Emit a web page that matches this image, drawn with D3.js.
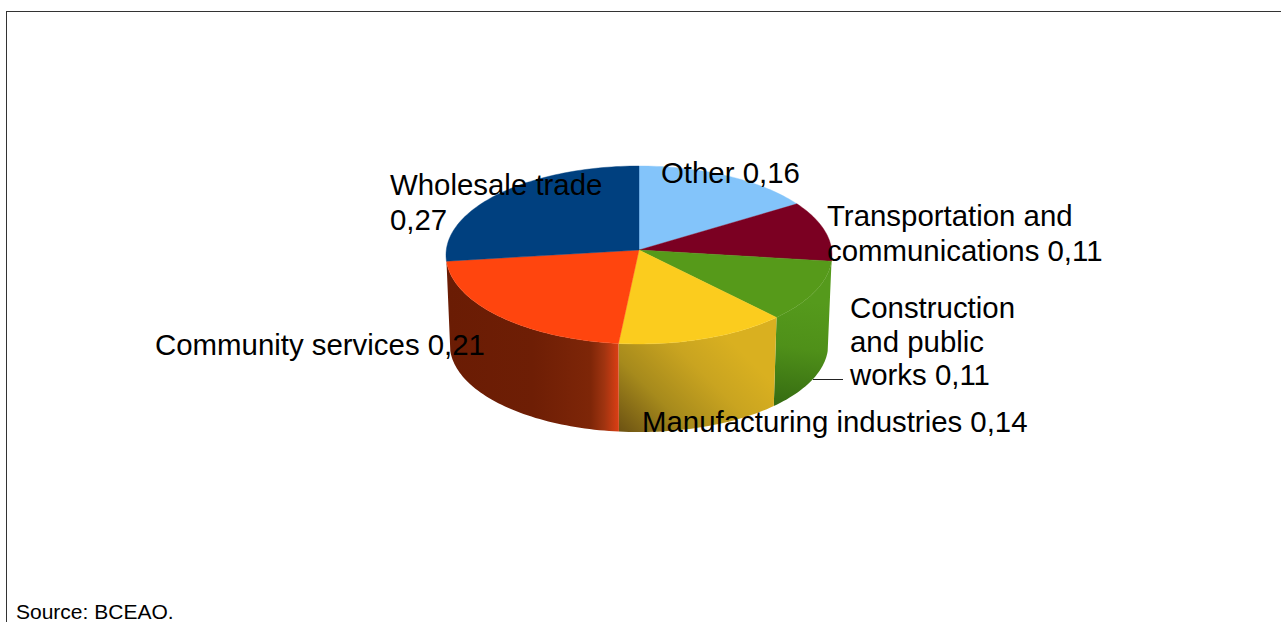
<!DOCTYPE html>
<html>
<head>
<meta charset="utf-8">
<script src="https://cdn.jsdelivr.net/npm/d3@7"></script>
<style>
  html, body { margin: 0; padding: 0; background: #fff; overflow: hidden; }
  svg { display: block; }
  text { font-family: "Liberation Sans", Arial, sans-serif; fill: #000; }
</style>
</head>
<body>
<div id="chart"></div>
<script>
// === chart data ===
const sectors = ["Other", "Transportation and communications", "Construction and public works",
  "Manufacturing industries", "Community services", "Wholesale trade"];
const shares = [0.16, 0.11, 0.11, 0.136, 0.214, 0.27];
const sourceNote = "Source: BCEAO.";

const topColors = ["#83c4fa", "#7b0022", "#569a1a", "#fbcc1e", "#ff450e", "#00407f"];

// label lines and where they sit, same order as sectors
const labelLines = [
  ["Other 0,16"],
  ["Transportation and", "communications 0,11"],
  ["Construction", "and public", "works 0,11"],
  ["Manufacturing industries 0,14"],
  ["Community services 0,21"],
  ["Wholesale trade", "0,27"],
];
const labelPos = [[661, 183], [827, 226], [850, 318], [642, 432], [155, 355], [390, 195]];
const lineSteps = [0, 34.5, 33.5, 0, 0, 34.5];

const width = 1281, height = 622;
const cx = 639, cy = 250;       // where the slices meet
const R = 192.7, tilt = 88.7;   // disc size on screen
const persp = 0.056;            // far edge shrinks a bit
const depth = 90, bottomScale = 0.98;

const svg = d3.select("#chart").append("svg").attr("width", width).attr("height", height);
const defs = svg.append("defs");

// ---- helpers ----
function project(a) {
  const u = Math.sin(a), v = Math.cos(a), w = 1 + persp * v;
  return [R * u / w, -tilt * v / w];
}
const onTop = (a) => { const p = project(a); return [cx + p[0], cy + p[1]]; };
const onBottom = (a) => { const p = project(a); return [cx + p[0] * bottomScale, cy + depth + p[1] * bottomScale]; };

function arcAngles(a0, a1) {
  const n = Math.max(2, Math.ceil((a1 - a0) * 40));
  return d3.range(n + 1).map((i) => a0 + (a1 - a0) * i / n);
}

function gradient(id, x1, y1, x2, y2, stops) {
  const g = defs.append("linearGradient").attr("id", id).attr("gradientUnits", "userSpaceOnUse")
    .attr("x1", x1).attr("y1", y1).attr("x2", x2).attr("y2", y2);
  stops.forEach((s) => g.append("stop").attr("offset", s[0]).attr("stop-color", s[1]));
}

gradient("wall2", 800, 300, 785, 405, [[0, "#559a1c"], [0.45, "#4f9019"], [1, "#366c12"]]);
gradient("wall3", 625, 435, 725, 335, [[0, "#6e5413"], [0.35, "#a68a1c"], [0.7, "#c9a420"], [1, "#d9b020"]]);
gradient("wall4", 447, 0, 618, 0, [[0, "#6a1c04"], [0.5, "#6e1e05"], [0.84, "#7e2608"], [0.92, "#a03410"], [1, "#d83e14"]]);
const wallFills = { 2: "url(#wall2)", 3: "url(#wall3)", 4: "url(#wall4)" };

const slices = d3.pie().sort(null).startAngle(0).endAngle(2 * Math.PI)(shares);
const line = d3.line();

// frame
svg.append("rect").attr("x", 6.5).attr("y", 11.5).attr("width", width + 10).attr("height", height + 10)
  .attr("fill", "none").attr("stroke", "#333").attr("stroke-width", 1);

// leader line for the construction label
svg.append("line").attr("x1", 813).attr("x2", 843).attr("y1", 379.5).attr("y2", 379.5)
  .attr("stroke", "#222").attr("stroke-width", 1);

// side walls (only the ones facing us)
slices.forEach((s, i) => {
  if (!wallFills[i]) return;
  const angles = arcAngles(s.startAngle, s.endAngle);
  const pts = angles.map(onTop).concat(angles.slice().reverse().map(onBottom));
  svg.append("path").attr("d", line(pts) + "Z").attr("fill", wallFills[i]);
});

// top faces
slices.forEach((s, i) => {
  const pts = [[cx, cy]].concat(arcAngles(s.startAngle, s.endAngle).map(onTop));
  svg.append("path").attr("d", line(pts) + "Z").attr("fill", topColors[i])
    .attr("stroke", topColors[i]).attr("stroke-width", 0.4);
});

// labels
labelLines.forEach((lines, i) => {
  const t = svg.append("text").attr("x", labelPos[i][0]).attr("y", labelPos[i][1]).attr("font-size", 29.4);
  lines.forEach((l, k) => {
    t.append("tspan").attr("x", labelPos[i][0]).attr("dy", k ? lineSteps[i] : 0).text(l);
  });
});

svg.append("text").attr("x", 16).attr("y", 619).attr("font-size", 21).text(sourceNote);
</script>
</body>
</html>
